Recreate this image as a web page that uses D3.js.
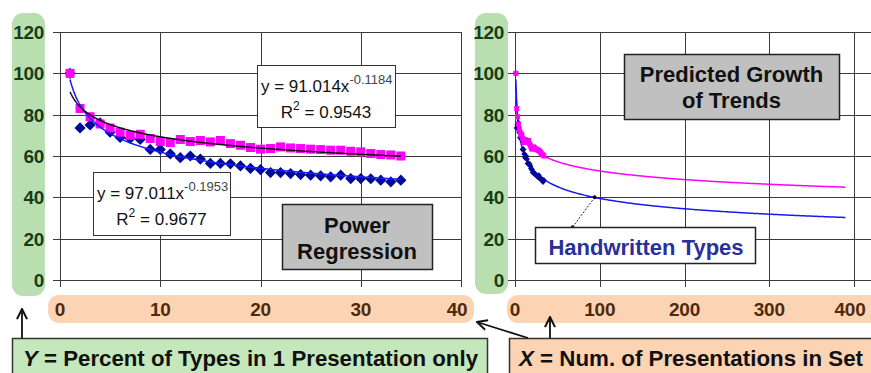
<!DOCTYPE html>
<html>
  <head>
    <script type="text/javascript" src="https://cdn.jsdelivr.net/npm/d3@7"></script>
    <style type="text/css">

html, body {
  margin: 0;
  background: #fff;
}

svg {
  display: block;
  font-family: "Liberation Sans", Arial, sans-serif;
}

.grid line {
  stroke: #3a3a3a;
  stroke-width: 1;
}

.ytick {
  font-size: 19px;
  font-weight: bold;
  fill: #173d17;
  letter-spacing: -0.3px;
}

.xtick {
  font-size: 19px;
  font-weight: bold;
  fill: #4f2a0c;
  letter-spacing: -0.3px;
}

.eq {
  font-size: 17px;
  fill: #111;
}

.boxlabel {
  font-size: 22px;
  font-weight: bold;
  fill: #111;
}

    </style>
  </head>
  <body>
    <div id="chart"></div>
    <script type="text/javascript">

// Observed points: percent of types found in only one presentation
var setSize = d3.range(1, 35);
var pinkPct = [100, 83, 79, 75.5, 73.5, 71.5, 70, 70.5, 68.5, 67, 66.5, 68, 67,
  67.5, 66.8, 67.5, 66, 65.2, 64.1, 63.3, 63.6, 64.4, 63.9, 63.6, 63.3, 63.1,
  62.8, 62.8, 62.3, 62, 61.2, 60.7, 60.5, 60];
var bluePct = [100, 73.6, 75, 76, 71.5, 69, 68.5, 68, 63.2, 63.2, 61, 59.2, 60,
  58.5, 56.4, 56.4, 56.2, 55.2, 54, 53.4, 52, 52, 51.5, 51, 50.7, 50.4, 49.9,
  50.7, 49.1, 49.1, 49, 48.3, 47.5, 48.3];

// Power regression coefficients printed on the chart
var pinkFit = {a: 91.014, b: -0.1184, r2: "0.9543"};
var blueFit = {a: 97.011, b: -0.1953, r2: "0.9677"};

var yTicks = [0, 20, 40, 60, 80, 100, 120];
var xTicksLeft = [0, 10, 20, 30, 40];
var xTicksRight = [0, 100, 200, 300, 400];

var svg = d3.select("#chart").append("svg")
    .attr("width", 871)
    .attr("height", 373);

var y = d3.scaleLinear().domain([0, 120]).range([280, 32]);
var xL = d3.scaleLinear().domain([0, 40]).range([60, 461]);
var xR = d3.scaleLinear().domain([0, 400]).range([515, 854]);

// Coloured bands behind the tick labels
svg.append("rect").attr("x", 12).attr("y", 13).attr("width", 33).attr("height", 283)
    .attr("rx", 11).attr("fill", "#b9dfb1");
svg.append("rect").attr("x", 475).attr("y", 13).attr("width", 33).attr("height", 281)
    .attr("rx", 11).attr("fill", "#b9dfb1");
svg.append("rect").attr("x", 48).attr("y", 295).attr("width", 426).attr("height", 28)
    .attr("rx", 11).attr("fill", "#fcd3b3");
svg.append("rect").attr("x", 507).attr("y", 295).attr("width", 380).attr("height", 28)
    .attr("rx", 11).attr("fill", "#fcd3b3");

function drawGrid(x, xTicks, xEnd, labelRight) {
  var g = svg.append("g").attr("class", "grid");
  var x0 = x.range()[0];
  g.selectAll("line.h").data(yTicks).enter().append("line")
      .attr("class", "h")
      .attr("x1", x0 - 7).attr("x2", xEnd)
      .attr("y1", function(d) { return Math.round(y(d)) + 0.5; })
      .attr("y2", function(d) { return Math.round(y(d)) + 0.5; });
  g.selectAll("line.v").data(xTicks).enter().append("line")
      .attr("class", "v")
      .attr("x1", function(d) { return Math.round(x(d)) + 0.5; })
      .attr("x2", function(d) { return Math.round(x(d)) + 0.5; })
      .attr("y1", y(120)).attr("y2", y(0) + 7);

  svg.append("g").selectAll("text").data(yTicks).enter().append("text")
      .attr("class", "ytick")
      .attr("x", labelRight)
      .attr("y", function(d) { return y(d) + 7; })
      .attr("text-anchor", "end")
      .text(function(d) { return d; });

  svg.append("g").selectAll("text").data(xTicks).enter().append("text")
      .attr("class", "xtick")
      .attr("x", function(d, i) { return x(d) + (i == xTicks.length - 1 ? -4 : 0); })
      .attr("y", 316)
      .attr("text-anchor", "middle")
      .text(function(d) { return d; });
}

drawGrid(xL, xTicksLeft, 462, 44);
drawGrid(xR, xTicksRight, 871, 504);

function fitLine(fit, x, xMax) {
  var pts = d3.range(1, xMax, xMax / 300).concat([xMax]);
  return d3.line()
      .x(function(d) { return x(d); })
      .y(function(d) { return y(fit.a * Math.pow(d, fit.b)); })(pts);
}

function drawPoints(x, sq, dm) {
  svg.append("g").selectAll("path").data(bluePct).enter().append("path")
      .attr("d", d3.symbol(d3.symbolDiamond2, dm))
      .attr("transform", function(d, i) {
        return "translate(" + x(setSize[i]) + "," + y(d) + ")";
      })
      .attr("fill", "#000a96");
  svg.append("g").selectAll("rect").data(pinkPct).enter().append("rect")
      .attr("x", function(d, i) { return x(setSize[i]) - sq / 2; })
      .attr("y", function(d) { return y(d) - sq / 2; })
      .attr("width", sq).attr("height", sq)
      .attr("fill", "#ff00ff");
}

// Left: observed data with trend lines
drawPoints(xL, 9, 80);
svg.append("path").attr("d", fitLine(blueFit, xL, 34))
    .attr("fill", "none").attr("stroke", "#1a1aff").attr("stroke-width", 1.5);
svg.append("path").attr("d", fitLine(pinkFit, xL, 34))
    .attr("fill", "none").attr("stroke", "#111").attr("stroke-width", 1.5);

// Right: extrapolated trends
svg.append("path").attr("d", fitLine(pinkFit, xR, 390))
    .attr("fill", "none").attr("stroke", "#ff00ff").attr("stroke-width", 1.5);
svg.append("path").attr("d", fitLine(blueFit, xR, 390))
    .attr("fill", "none").attr("stroke", "#1a1aee").attr("stroke-width", 1.5);
drawPoints(xR, 5, 24);

// Equation boxes
function eqBox(x0, y0, w, h, fit) {
  var g = svg.append("g");
  g.append("rect").attr("x", x0 + 0.5).attr("y", y0 + 0.5).attr("width", w).attr("height", h)
      .attr("fill", "#fff").attr("stroke", "#333");
  var t1 = g.append("text").attr("class", "eq")
      .attr("x", x0 + 4).attr("y", y0 + 27);
  t1.append("tspan").text("y = " + fit.a.toFixed(3) + "x");
  t1.append("tspan").attr("dy", -8).attr("font-size", 13).attr("fill", "#444").text(fit.b);
  var t2 = g.append("text").attr("class", "eq")
      .attr("x", x0 + w / 2).attr("y", y0 + 53).attr("text-anchor", "middle");
  t2.append("tspan").text("R");
  t2.append("tspan").attr("dy", -8).attr("font-size", 12).text("2");
  t2.append("tspan").attr("dy", 8).text(" = " + fit.r2);
}
eqBox(257, 65, 138, 62, pinkFit);
eqBox(93, 172, 137, 63, blueFit);

function grayBox(x0, y0, w, h, lines, dy) {
  svg.append("rect").attr("x", x0 + 0.5).attr("y", y0 + 0.5).attr("width", w).attr("height", h)
      .attr("fill", "#c0c0c0").attr("stroke", "#222").attr("stroke-width", 1.5);
  svg.append("g").selectAll("text").data(lines).enter().append("text")
      .attr("class", "boxlabel")
      .attr("x", x0 + w / 2)
      .attr("y", function(d, i) { return y0 + dy + i * 26; })
      .attr("text-anchor", "middle")
      .text(function(d) { return d; });
}
grayBox(282, 204, 150, 65, ["Power", "Regression"], 29);
grayBox(624, 54, 215, 65, ["Predicted Growth", "of Trends"], 28);

// Handwritten Types callout
var callPt = [94, 40], callEnd = [68, 25.6];
svg.append("line")
    .attr("x1", xR(callPt[0])).attr("y1", y(callPt[1]))
    .attr("x2", xR(callEnd[0])).attr("y2", y(callEnd[1]))
    .attr("stroke", "#222").attr("stroke-dasharray", "2,1.5");
svg.append("circle").attr("cx", xR(callPt[0])).attr("cy", y(callPt[1])).attr("r", 2).attr("fill", "#111");
svg.append("circle").attr("cx", xR(callEnd[0])).attr("cy", y(callEnd[1])).attr("r", 1.8).attr("fill", "#111");
svg.append("rect").attr("x", 535.5).attr("y", 227.5).attr("width", 220).attr("height", 36)
    .attr("fill", "#fff").attr("stroke", "#222").attr("stroke-width", 1.5);
svg.append("text").attr("class", "boxlabel").attr("x", 646).attr("y", 255)
    .attr("text-anchor", "middle").style("fill", "#2b2f9a")
    .text("Handwritten Types");

// Axis captions at the bottom
svg.append("rect").attr("x", 12.5).attr("y", 338.5).attr("width", 475).attr("height", 40)
    .attr("fill", "#c4e7bc").attr("stroke", "#333").attr("stroke-width", 1.5);
svg.append("rect").attr("x", 509.5).attr("y", 338.5).attr("width", 380).attr("height", 40)
    .attr("fill", "#fcd3b3").attr("stroke", "#333").attr("stroke-width", 1.5);

var cap1 = svg.append("text").attr("class", "boxlabel").attr("x", 23).attr("y", 366)
    .attr("textLength", 455).attr("lengthAdjust", "spacingAndGlyphs");
cap1.append("tspan").attr("font-style", "italic").text("Y");
cap1.append("tspan").text(" = Percent of Types in 1 Presentation only");
var cap2 = svg.append("text").attr("class", "boxlabel").attr("x", 519).attr("y", 366)
    .attr("textLength", 344).attr("lengthAdjust", "spacingAndGlyphs");
cap2.append("tspan").attr("font-style", "italic").text("X");
cap2.append("tspan").text(" = Num. of Presentations in Set");

// Arrows
svg.append("defs").append("marker")
    .attr("id", "head").attr("viewBox", "0 0 10 10")
    .attr("refX", 9).attr("refY", 5)
    .attr("markerWidth", 7).attr("markerHeight", 7)
    .attr("orient", "auto")
  .append("path").attr("d", "M1,1 L9,5 L1,9").attr("fill", "none").attr("stroke", "#111").attr("stroke-width", 1.6);

var arrows = [[22, 338, 22, 309], [528, 338, 477, 322], [550, 338, 550, 317]];
svg.append("g").selectAll("line").data(arrows).enter().append("line")
    .attr("x1", function(d) { return d[0]; }).attr("y1", function(d) { return d[1]; })
    .attr("x2", function(d) { return d[2]; }).attr("y2", function(d) { return d[3]; })
    .attr("stroke", "#111").attr("stroke-width", 1.8)
    .attr("marker-end", "url(#head)");

    </script>
  </body>
</html>
